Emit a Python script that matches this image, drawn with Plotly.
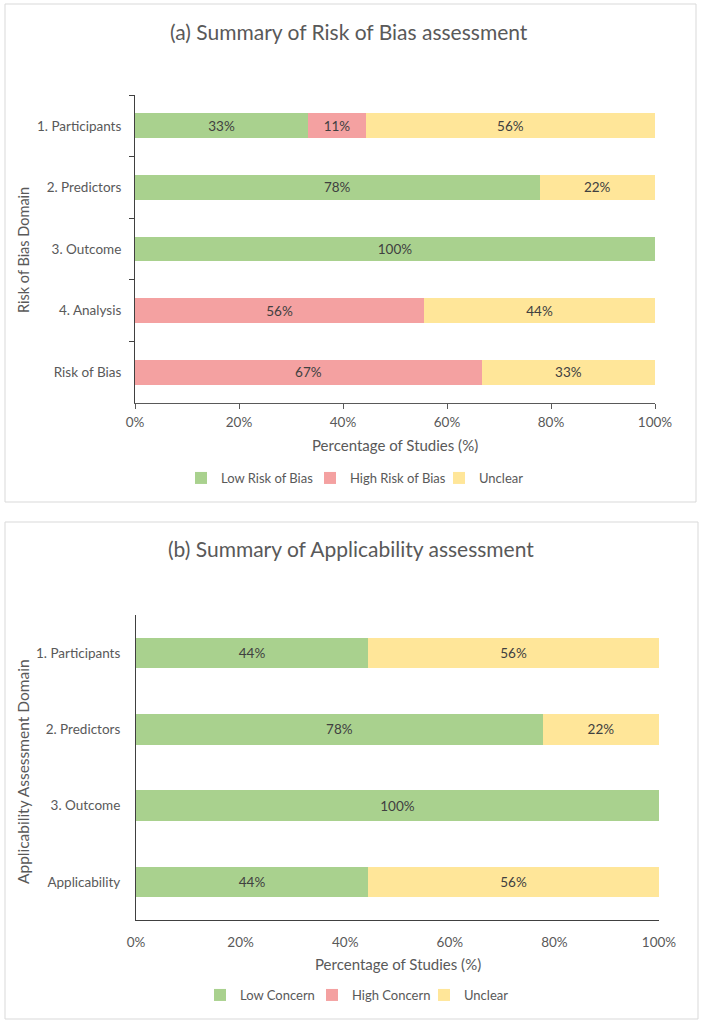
import plotly.graph_objects as go

W, H = 703, 1024

# ---------------- data ----------------
rob_domains = ["1. Participants", "2. Predictors", "3. Outcome", "4. Analysis", "Risk of Bias"]
rob_low = [33.3, 77.8, 100.0, 0.0, 0.0]
rob_high = [11.1, 0.0, 0.0, 55.6, 66.7]
rob_unclear = [55.6, 22.2, 0.0, 44.4, 33.3]
rob_names = ["Low Risk of Bias", "High Risk of Bias", "Unclear"]

app_domains = ["1. Participants", "2. Predictors", "3. Outcome", "Applicability"]
app_low = [44.4, 77.8, 100.0, 44.4]
app_high = [0.0, 0.0, 0.0, 0.0]
app_unclear = [55.6, 22.2, 0.0, 55.6]
app_names = ["Low Concern", "High Concern", "Unclear"]

x_ticks = [0, 20, 40, 60, 80, 100]
x_ticktext = ["0%", "20%", "40%", "60%", "80%", "100%"]

colors = ["#A9D18E", "#F4A1A1", "#FFE699"]

FONT = "Lato"
GREY = "#595959"
DARK = "#404040"


def px(x):
    return x / W


def py(y):
    return 1 - y / H


def labels(vals):
    return [f"{v:.0f}%" if v > 0 else "" for v in vals]


fig = go.Figure()

for name, vals, col in zip(rob_names, [rob_low, rob_high, rob_unclear], colors):
    fig.add_trace(go.Bar(
        y=rob_domains, x=vals, orientation="h", name=name,
        marker=dict(color=col, line=dict(width=0)),
        text=labels(vals), textposition="inside", insidetextanchor="middle",
        textangle=0, constraintext="none",
        textfont=dict(family=FONT, size=13.5, color=DARK),
        xaxis="x", yaxis="y", legend="legend", hoverinfo="skip",
    ))

for name, vals, col in zip(app_names, [app_low, app_high, app_unclear], colors):
    fig.add_trace(go.Bar(
        y=app_domains, x=vals, orientation="h", name=name,
        marker=dict(color=col, line=dict(width=0)),
        text=labels(vals), textposition="inside", insidetextanchor="middle",
        textangle=0, constraintext="none",
        textfont=dict(family=FONT, size=13.5, color=DARK),
        xaxis="x2", yaxis="y2", legend="legend2", hoverinfo="skip",
    ))

tickfont = dict(family=FONT, size=13.5, color=GREY)

fig.update_layout(
    template="none",
    width=W, height=H,
    margin=dict(l=0, r=0, t=0, b=0),
    paper_bgcolor="white", plot_bgcolor="white",
    barmode="stack", bargap=0.6,
    font=dict(family=FONT, color=GREY),
    xaxis=dict(
        domain=[px(135), px(655)], anchor="y", range=[0, 100],
        tickvals=x_ticks, ticktext=x_ticktext, tickfont=tickfont,
        ticks="outside", ticklen=5, tickcolor=GREY, tickwidth=1, ticklabelstandoff=2,
        showline=True, linecolor=GREY, linewidth=1,
        showgrid=False, zeroline=False, automargin=False, fixedrange=True,
    ),
    yaxis=dict(
        domain=[py(403), py(95)], anchor="x", autorange="reversed",
        categoryorder="array", categoryarray=rob_domains, tickfont=tickfont,
        ticks="outside", tickson="boundaries", ticklen=5, tickcolor=DARK, tickwidth=1,
        showline=True, linecolor=DARK, linewidth=1, ticklabelstandoff=10,
        showgrid=False, zeroline=False, automargin=False, fixedrange=True,
    ),
    xaxis2=dict(
        domain=[px(136), px(659)], anchor="y2", range=[0, 100],
        tickvals=x_ticks, ticktext=x_ticktext, tickfont=tickfont,
        ticks="", showline=True, linecolor=DARK, linewidth=1, ticklabelstandoff=10,
        showgrid=False, zeroline=False, automargin=False, fixedrange=True,
    ),
    yaxis2=dict(
        domain=[py(920), py(615)], anchor="x2", autorange="reversed",
        categoryorder="array", categoryarray=app_domains, tickfont=tickfont,
        ticks="", showline=True, linecolor=DARK, linewidth=1, ticklabelstandoff=12,
        showgrid=False, zeroline=False, automargin=False, fixedrange=True,
    ),
    legend=dict(
        orientation="h", x=px(181), xanchor="left", y=py(478), yanchor="middle",
        font=dict(family=FONT, size=13, color=GREY), itemwidth=30,
        entrywidth=84, entrywidthmode="pixels",
        traceorder="normal", bgcolor="rgba(0,0,0,0)",
    ),
    legend2=dict(
        orientation="h", x=px(200), xanchor="left", y=py(995), yanchor="middle",
        font=dict(family=FONT, size=13, color=GREY), itemwidth=30,
        entrywidth=67, entrywidthmode="pixels",
        traceorder="normal", bgcolor="rgba(0,0,0,0)",
    ),
    showlegend=True,
)

annotations = [
    dict(text="(a) Summary of Risk of Bias assessment", x=px(349), y=py(31),
         font=dict(family=FONT, size=21, color=GREY)),
    dict(text="(b) Summary of Applicability assessment", x=px(351), y=py(548),
         font=dict(family=FONT, size=21, color=GREY)),
    dict(text="Percentage of Studies (%)", x=px(395), y=py(445),
         font=dict(family=FONT, size=15, color=GREY)),
    dict(text="Percentage of Studies (%)", x=px(398), y=py(964),
         font=dict(family=FONT, size=15, color=GREY)),
    dict(text="Risk of Bias Domain", x=px(23), y=py(250), textangle=-90,
         font=dict(family=FONT, size=14.5, color=GREY)),
    dict(text="Applicability Assessment Domain", x=px(23), y=py(772), textangle=-90,
         font=dict(family=FONT, size=15.5, color=GREY)),
]
for a in annotations:
    a.update(xref="paper", yref="paper", showarrow=False,
             xanchor="center", yanchor="middle")
fig.update_layout(annotations=annotations)

fig.update_layout(shapes=[
    dict(type="rect", xref="paper", yref="paper",
         x0=px(5), x1=px(696), y0=py(502), y1=py(4),
         line=dict(color="#D9D9D9", width=1), layer="below"),
    dict(type="rect", xref="paper", yref="paper",
         x0=px(5), x1=px(698), y0=py(1019), y1=py(522),
         line=dict(color="#D9D9D9", width=1), layer="below"),
])

fig.write_html(
    "out.html",
    config={"displayModeBar": False, "staticPlot": True},
    post_script="document.body.style.margin='0';document.body.style.overflow='hidden';",
)
